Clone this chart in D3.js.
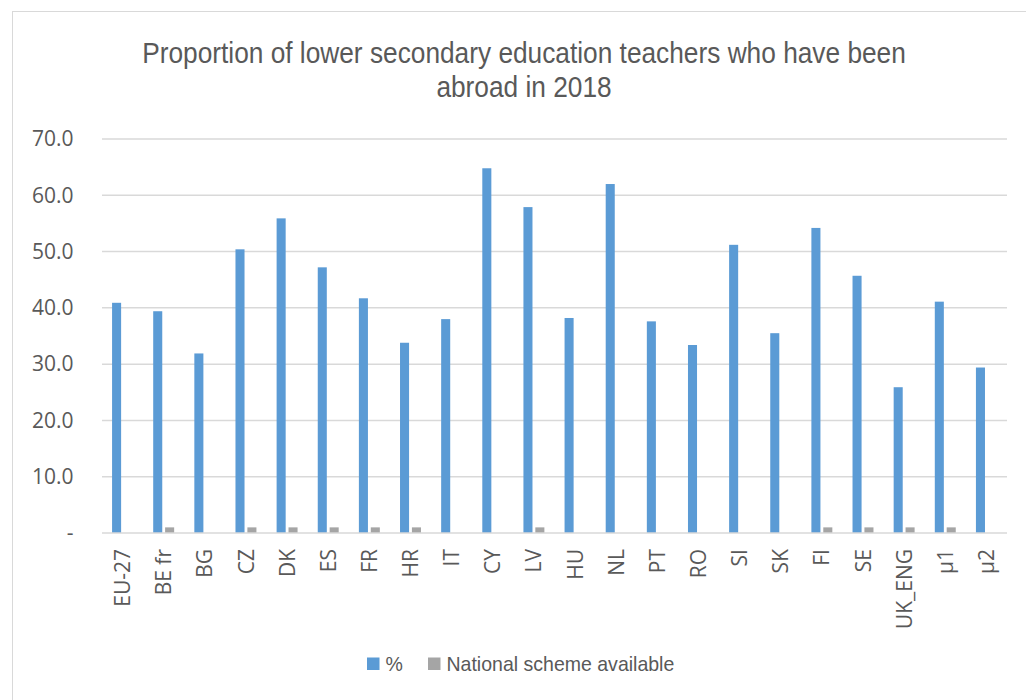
<!DOCTYPE html>
<html>
<head>
<meta charset="utf-8">
<script src="https://cdn.jsdelivr.net/npm/d3@7"></script>
<style>
  body { margin: 0; background: white; }
  svg text { fill: #595959; }
</style>
</head>
<body>
<div id="wykres"></div>
<script>
var kraje = ["EU-27", "BE fr", "BG", "CZ", "DK", "ES", "FR", "HR", "IT", "CY", "LV",
  "HU", "NL", "PT", "RO", "SI", "SK", "FI", "SE", "UK_ENG", "µ1", "µ2"];
var procent = [40.9, 39.4, 31.9, 50.4, 55.9, 47.2, 41.7, 33.8, 38.0, 64.8, 57.9,
  38.2, 62.0, 37.6, 33.4, 51.2, 35.5, 54.2, 45.7, 25.9, 41.1, 29.4];
var schemat = [0, 1, 0, 1, 1, 1, 1, 1, 0, 0, 1,
  0, 0, 0, 0, 0, 0, 1, 1, 1, 1, 0];
var yTicks = [0, 10, 20, 30, 40, 50, 60, 70];
var tytul = ["Proportion of lower secondary education teachers who have been", "abroad in 2018"];
var legenda = ["%", "National scheme available"];

var W = 1026, H = 700;
var margin = { top: 139, left: 102, right: 19, bottom: 167 };
var width = W - margin.left - margin.right;
var height = H - margin.top - margin.bottom;

var svg = d3.select("#wykres")
  .append("svg")
  .attr("width", W)
  .attr("height", H);

// ramka
svg.append("rect")
  .attr("x", 12.5)
  .attr("y", 11.5)
  .attr("width", 1100)
  .attr("height", 800)
  .attr("fill", "white")
  .attr("stroke", "#d9d9d9")
  .attr("stroke-width", 1);

// tytul (wezszy krój - scisniety w poziomie)
var narrowTitle = 1;
var tytulG = svg.append("g");
var tytulT = tytulG.selectAll("text")
  .data(tytul)
  .enter().append("text")
  .attr("x", 0)
  .attr("y", (d, i) => i * 34)
  .attr("text-anchor", "middle")
  .style("font-family", "'Liberation Sans', Arial, sans-serif")
  .style("font-size", "30px")
  .text(d => d);
narrowTitle = 764 / tytulT.node().getComputedTextLength();
tytulG.attr("transform", "translate(524,63)scale(" + narrowTitle + ",1)");

var g = svg.append("g")
  .attr("transform", "translate(" + margin.left + "," + margin.top + ")");

var xscale = d3.scaleBand()
  .domain(kraje)
  .range([0, width]);

var yscale = d3.scaleLinear()
  .domain([0, 70])
  .range([height, 0]);

// siatka
g.append("g").selectAll("line")
  .data(yTicks.filter(d => d > 0))
  .enter().append("line")
  .attr("x1", 0)
  .attr("x2", width)
  .attr("y1", d => yscale(d))
  .attr("y2", d => yscale(d))
  .attr("stroke", "#d9d9d9")
  .attr("stroke-width", 1.5);

// os y
var yAxis = g.append("g")
  .call(d3.axisLeft(yscale).tickValues(yTicks).tickSize(0).tickPadding(28.5)
    .tickFormat(d => d === 0 ? "-" : d3.format(".1f")(d)));
yAxis.select(".domain").remove();
yAxis.selectAll("text")
  .style("font-family", "'Open Sans', sans-serif")
  .style("font-size", "21px")
  .attr("fill", "#595959");

var bw = xscale.bandwidth() * 0.22;

// slupki %
g.append("g").selectAll("rect")
  .data(procent)
  .enter().append("rect")
  .attr("x", (d, i) => xscale(kraje[i]) + xscale.bandwidth() / 2 - 10.5)
  .attr("y", d => yscale(d))
  .attr("width", bw)
  .attr("height", d => height - yscale(d))
  .attr("fill", "#5b9bd5");

// slupki schemat
g.append("g").selectAll("rect")
  .data(schemat)
  .enter().append("rect")
  .attr("x", (d, i) => xscale(kraje[i]) + xscale.bandwidth() / 2 + 1.4)
  .attr("y", d => yscale(d))
  .attr("width", bw)
  .attr("height", d => height - yscale(d))
  .attr("fill", "#a5a5a5");

// os x
g.append("line")
  .attr("x1", 0)
  .attr("x2", width)
  .attr("y1", height)
  .attr("y2", height)
  .attr("stroke", "#d9d9d9")
  .attr("stroke-width", 1.5);

g.append("g").selectAll("text")
  .data(kraje)
  .enter().append("text")
  .attr("transform", d => "translate(" + (xscale(d) + xscale.bandwidth() / 2) + "," + (height + 16) + ")rotate(-90)")
  .attr("dy", "0.36em")
  .attr("text-anchor", "end")
  .style("font-family", "'Open Sans', sans-serif")
  .style("font-size", "21px")
  .text(d => d);

// legenda
var kolory = ["#5b9bd5", "#a5a5a5"];
var legX = [367, 428];
var leg = svg.append("g");
leg.selectAll("rect")
  .data(legenda)
  .enter().append("rect")
  .attr("x", (d, i) => legX[i])
  .attr("y", 657.5)
  .attr("width", 12.5)
  .attr("height", 12.5)
  .attr("fill", (d, i) => kolory[i]);
var legT = leg.selectAll("text")
  .data(legenda)
  .enter().append("text")
  .attr("y", 671)
  .style("font-family", "'Liberation Sans', Arial, sans-serif")
  .style("font-size", "20px")
  .text(d => d);
var narrowLeg = 228 / legT.nodes()[1].getComputedTextLength();
legT.attr("transform", (d, i) => "translate(" + (legX[i] + 18.5) + ",0)scale(" + narrowLeg + ",1)");
</script>
</body>
</html>
